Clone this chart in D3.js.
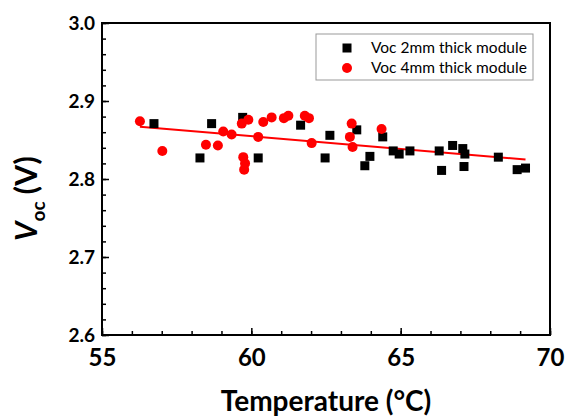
<!DOCTYPE html>
<html>
<head>
<meta charset="utf-8">
<script src="https://cdn.jsdelivr.net/npm/d3@7"></script>
<style>
  body { margin: 0; background: #fff; }
  svg { font-family: Lato, "Open Sans", sans-serif; }
</style>
</head>
<body>
<svg id="chart" width="565" height="418"></svg>
<script>
// Voc 2mm thick module (temperature °C, Voc V)
const temp2mm = [56.74, 58.67, 58.28, 59.71, 60.23, 61.65, 62.63, 62.47, 63.53, 64.40, 63.97, 63.80,
  64.75, 64.95, 65.31, 66.29, 66.74, 67.08, 67.15, 66.37, 67.12, 68.27, 68.90, 69.18];
const voc2mm = [2.871, 2.871, 2.827, 2.879, 2.827, 2.869, 2.856, 2.827, 2.863, 2.854, 2.829, 2.817,
  2.836, 2.832, 2.836, 2.836, 2.843, 2.839, 2.832, 2.811, 2.816, 2.828, 2.812, 2.814];

// Voc 4mm thick module
const temp4mm = [56.27, 57.02, 58.48, 58.88, 59.06, 59.34, 59.68, 59.90, 60.40, 60.68, 61.09, 61.24,
  61.79, 61.93, 60.23, 62.02, 59.73, 59.79, 59.76, 63.36, 63.30, 63.39, 64.36];
const voc4mm = [2.874, 2.836, 2.844, 2.843, 2.861, 2.857, 2.871, 2.876, 2.873, 2.879, 2.878, 2.881,
  2.881, 2.878, 2.854, 2.846, 2.828, 2.820, 2.812, 2.871, 2.854, 2.841, 2.864];

// linear fit line end points
const fitTemp = [56.27, 69.18];
const fitVoc = [2.867, 2.825];

const xTicks = [55, 60, 65, 70];
const yTicks = [2.6, 2.7, 2.8, 2.9, 3.0];
const legendLabels = ["Voc 2mm thick module", "Voc 4mm thick module"];

const svg = d3.select("#chart");
const margin = { left: 102, right: 15, top: 23, bottom: 83 };
const width = +svg.attr("width"), height = +svg.attr("height");

const x = d3.scaleLinear().domain([55, 70]).range([margin.left, width - margin.right]);
const y = d3.scaleLinear().domain([2.6, 3.0]).range([height - margin.bottom, margin.top]);

// minor ticks
const g = svg.append("g");
g.append("g")
  .attr("transform", `translate(0,${y(2.6)})`)
  .call(d3.axisBottom(x).tickValues(d3.range(55, 70.01, 1)).tickSize(-4).tickFormat(""))
  .call(a => a.select(".domain").remove())
  .selectAll("line").attr("stroke-width", 1.5);
g.append("g")
  .attr("transform", `translate(${x(55)},0)`)
  .call(d3.axisLeft(y).tickValues(d3.range(2.6, 3.001, 0.02)).tickSize(-4).tickFormat(""))
  .call(a => a.select(".domain").remove())
  .selectAll("line").attr("stroke-width", 1.5);

// major ticks + labels
const xAxis = g.append("g")
  .attr("transform", `translate(0,${y(2.6)})`)
  .call(d3.axisBottom(x).tickValues(xTicks).tickSize(-7).tickPadding(14).tickFormat(d3.format("d")));
xAxis.select(".domain").remove();
xAxis.selectAll("line").attr("stroke-width", 1.5);
xAxis.selectAll("text")
  .attr("font-size", 24).attr("font-weight", "bold").attr("fill", "#000")
  .attr("font-family", "Lato, 'Open Sans', sans-serif");

const yAxis = g.append("g")
  .attr("transform", `translate(${x(55)},0)`)
  .call(d3.axisLeft(y).tickValues(yTicks).tickSize(-7).tickPadding(7).tickFormat(d3.format(".1f")));
yAxis.select(".domain").remove();
yAxis.selectAll("line").attr("stroke-width", 1.5);
yAxis.selectAll("text")
  .attr("font-size", 19).attr("font-weight", "bold").attr("fill", "#000")
  .attr("font-family", "Lato, 'Open Sans', sans-serif");

// frame
svg.append("rect")
  .attr("x", x(55)).attr("y", y(3.0))
  .attr("width", x(70) - x(55)).attr("height", y(2.6) - y(3.0))
  .attr("fill", "none").attr("stroke", "#000").attr("stroke-width", 2);

// fit line
svg.append("line")
  .attr("x1", x(fitTemp[0])).attr("y1", y(fitVoc[0]))
  .attr("x2", x(fitTemp[1])).attr("y2", y(fitVoc[1]))
  .attr("stroke", "#ff0000").attr("stroke-width", 2);

// 2mm squares
const sq = 9;
svg.append("g").selectAll("rect")
  .data(d3.zip(temp2mm, voc2mm))
  .join("rect")
  .attr("x", d => x(d[0]) - sq / 2).attr("y", d => y(d[1]) - sq / 2)
  .attr("width", sq).attr("height", sq).attr("fill", "#000");

// 4mm circles
svg.append("g").selectAll("circle")
  .data(d3.zip(temp4mm, voc4mm))
  .join("circle")
  .attr("cx", d => x(d[0])).attr("cy", d => y(d[1]))
  .attr("r", 5).attr("fill", "#ff0000");

// legend
const leg = svg.append("g");
leg.append("rect")
  .attr("x", 316).attr("y", 34).attr("width", 217).attr("height", 46)
  .attr("fill", "#fff").attr("stroke", "#999").attr("stroke-width", 1);
leg.append("rect").attr("x", 347 - sq / 2).attr("y", 48 - sq / 2)
  .attr("width", sq).attr("height", sq).attr("fill", "#000");
leg.append("circle").attr("cx", 347).attr("cy", 68).attr("r", 5).attr("fill", "#ff0000");
leg.selectAll("text.lab")
  .data(legendLabels)
  .join("text")
  .attr("class", "lab")
  .attr("x", 371).attr("y", (d, i) => 48 + i * 20)
  .attr("dy", "0.35em")
  .attr("font-size", 15.5)
  .text(d => d);

// axis titles
svg.append("text")
  .attr("x", (x(55) + x(70)) / 2).attr("y", 411)
  .attr("text-anchor", "middle")
  .attr("font-size", 28).attr("font-weight", "bold")
  .text("Temperature (°C)");

const yt = svg.append("text")
  .attr("transform", "translate(37,241) rotate(-90)")
  .attr("font-weight", "bold");
yt.append("tspan").attr("font-size", 30).attr("font-style", "italic").text("V");
yt.append("tspan").attr("font-size", 19).attr("dy", 8).text("oc");
yt.append("tspan").attr("font-size", 30).attr("dy", -8).text(" (V)");
</script>
</body>
</html>
